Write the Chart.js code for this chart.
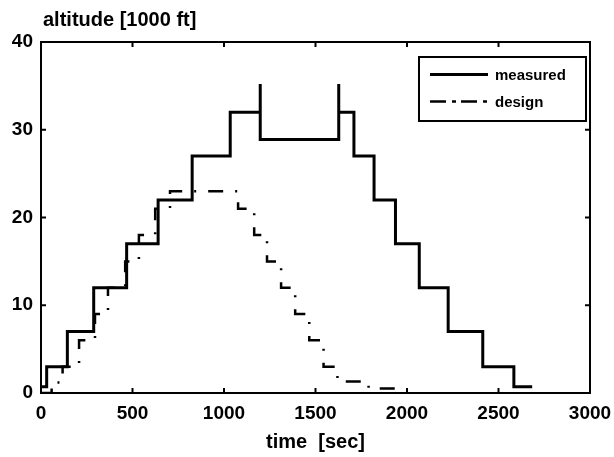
<!DOCTYPE html>
<html>
<head>
<meta charset="utf-8">
<script src="https://cdn.jsdelivr.net/npm/chart.js@4"></script>
<style>
  html, body { margin: 0; padding: 0; background: #fff; }
  #wrap { position: relative; width: 614px; height: 457px; }
</style>
</head>
<body>
<div id="wrap"><canvas id="altChart" width="614" height="457"></canvas></div>
<script>
/******** data: step series, each value holds from its time until the next one ********/
const MEAS_T   = [0, 31, 144, 288, 468, 640, 826, 1034, 1198, 1198, 1627, 1627, 1710, 1820, 1937, 2067, 2225, 2414, 2584, 2684];
const MEAS_ALT = [0.7, 3, 7, 12, 17, 22, 27, 32, 35.2, 28.9, 35.2, 32, 27, 22, 17, 12, 7, 3, 0.7, 0.7];

const DESIGN_T   = [0, 58, 118, 208, 295, 366, 460, 535, 624, 705, 1077, 1165, 1235, 1312, 1389, 1466, 1544, 1620, 1790, 1990];
const DESIGN_ALT = [0, 1.2, 3, 6, 9, 12, 15, 18, 21, 23, 21, 18, 15, 12, 9, 6, 3, 1.3, 0.5, 0.4];

const X_TICKS = [0, 500, 1000, 1500, 2000, 2500, 3000];
const Y_TICKS = [0, 10, 20, 30, 40];

const SERIES_NAMES = ["measured", "design"];
const Y_CAPTION = "altitude [1000 ft]";
const X_CAPTION = "time  [sec]";

const FONT = '"Liberation Sans", Arial, Helvetica, sans-serif';
const DESIGN_DASH = [15, 12, 2, 12];

function toPoints(ts, vs) {
  return ts.map((t, i) => ({ x: t, y: vs[i] }));
}

// frame with inward ticks, axis captions and the boxed legend
const framePlugin = {
  id: 'frame',
  afterDraw(chart) {
    const { ctx, chartArea: a, scales } = chart;
    const x = scales.x, y = scales.y;
    ctx.save();
    ctx.strokeStyle = '#000';
    ctx.lineWidth = 2;
    ctx.strokeRect(a.left, a.top, a.right - a.left, a.bottom - a.top);

    ctx.beginPath();
    X_TICKS.forEach(v => {
      const px = x.getPixelForValue(v);
      ctx.moveTo(px, a.bottom); ctx.lineTo(px, a.bottom - 5);
      ctx.moveTo(px, a.top); ctx.lineTo(px, a.top + 5);
    });
    Y_TICKS.forEach(v => {
      const py = y.getPixelForValue(v);
      ctx.moveTo(a.left, py); ctx.lineTo(a.left + 5, py);
      ctx.moveTo(a.right, py); ctx.lineTo(a.right - 5, py);
    });
    ctx.stroke();

    ctx.fillStyle = '#000';
    ctx.font = 'bold 20px ' + FONT;
    ctx.textAlign = 'left';
    ctx.textBaseline = 'alphabetic';
    ctx.fillText(Y_CAPTION, a.left + 2, 26);
    ctx.textAlign = 'center';
    ctx.fillText(X_CAPTION, (a.left + a.right) / 2, 448);

    // legend box
    const lx = 419, ly = 57, lw = 167, lh = 64;
    ctx.fillStyle = '#fff';
    ctx.fillRect(lx, ly, lw, lh);
    ctx.lineWidth = 2;
    ctx.strokeRect(lx, ly, lw, lh);

    ctx.font = 'bold 15px ' + FONT;
    ctx.textAlign = 'left';
    ctx.fillStyle = '#000';
    const rows = [
      { y: 74.5, width: 3, dash: [] },
      { y: 101.5, width: 2.5, dash: [16, 6, 4, 5] }
    ];
    rows.forEach((r, i) => {
      ctx.beginPath();
      ctx.setLineDash(r.dash);
      ctx.lineWidth = r.width;
      ctx.lineCap = 'butt';
      ctx.moveTo(430, r.y);
      ctx.lineTo(488, r.y);
      ctx.stroke();
      ctx.setLineDash([]);
      ctx.fillText(SERIES_NAMES[i], 495, r.y + 5);
    });
    ctx.restore();
  }
};

new Chart(document.getElementById('altChart'), {
  type: 'line',
  data: {
    datasets: [
      {
        label: SERIES_NAMES[0],
        data: toPoints(MEAS_T, MEAS_ALT),
        borderColor: '#000',
        borderWidth: 3,
        stepped: 'before',
        pointRadius: 0,
        fill: false,
        borderCapStyle: 'butt',
        borderJoinStyle: 'miter'
      },
      {
        label: SERIES_NAMES[1],
        data: toPoints(DESIGN_T, DESIGN_ALT),
        borderColor: '#000',
        borderWidth: 2.5,
        borderDash: DESIGN_DASH,
        stepped: 'before',
        pointRadius: 0,
        fill: false,
        borderCapStyle: 'butt'
      }
    ]
  },
  options: {
    responsive: false,
    animation: false,
    devicePixelRatio: 1,
    layout: { padding: { top: 42, right: 24, bottom: 0, left: 0 } },
    plugins: {
      legend: { display: false },
      tooltip: { enabled: false }
    },
    scales: {
      x: {
        type: 'linear',
        min: 0,
        max: 3000,
        afterBuildTicks: s => { s.ticks = X_TICKS.map(v => ({ value: v })); },
        afterFit: s => { s.height = 64; s.paddingLeft = 0; s.paddingRight = 0; },
        grid: { display: false, drawTicks: false },
        border: { display: false },
        ticks: {
          color: '#000',
          padding: 9,
          maxRotation: 0,
          autoSkip: false,
          callback: v => String(v),
          font: { family: FONT, size: 19, weight: 'bold' }
        }
      },
      y: {
        min: 0,
        max: 40,
        afterBuildTicks: s => { s.ticks = Y_TICKS.map(v => ({ value: v })); },
        afterFit: s => { s.width = 41; s.paddingTop = 0; s.paddingBottom = 0; },
        grid: { display: false, drawTicks: false },
        border: { display: false },
        ticks: {
          color: '#000',
          padding: 8,
          callback: v => String(v),
          font: { family: FONT, size: 19, weight: 'bold' }
        }
      }
    }
  },
  plugins: [framePlugin]
});
</script>
</body>
</html>
